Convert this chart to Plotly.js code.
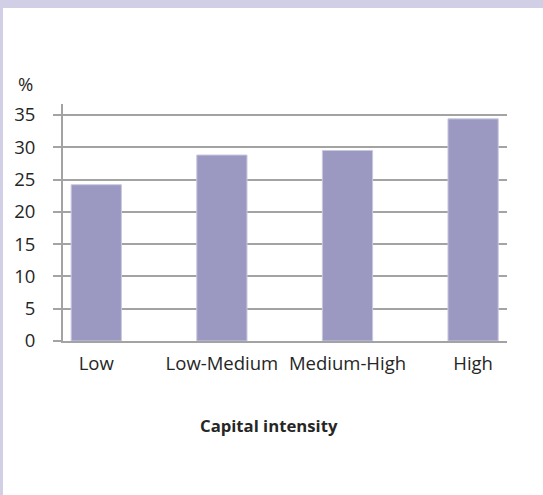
<!DOCTYPE html>
<html>
<head>
<meta charset="utf-8">
<script src="https://cdn.plot.ly/plotly-3.0.1.min.js"></script>
<style>html,body{margin:0;padding:0;background:#fff;}#chart{width:543px;height:495px;}</style>
</head>
<body>
<div id="chart"></div>
<script>
const categories = ["Low", "Low-Medium", "Medium-High", "High"];
const values = [24.2, 28.8, 29.5, 34.4];
const yTicks = [0, 5, 10, 15, 20, 25, 30, 35];
const xTitle = "Capital intensity";
const yUnit = "%";

const W = 543, H = 495, L = 63, R = 36, T = 104, B = 154;
const pw = W - L - R, ph = H - T - B;
const px = p => (p - L) / pw;
const py = p => (H - B - p) / ph;
const band = "#d0cfe6";
const grid = "#a3a3a3";
const font = "'Open Sans', 'Liberation Sans', sans-serif";
const fs = 18.5;

const trace = {
  type: "bar",
  x: categories,
  y: values,
  marker: {color: "#9b99c1", line: {color: "#c9c8e0", width: 1}},
  hoverinfo: "none"
};

const layout = {
  width: W, height: H,
  margin: {l: L, r: R, t: T, b: B, pad: 0},
  paper_bgcolor: "#ffffff",
  plot_bgcolor: "#ffffff",
  showlegend: false,
  bargap: 0.6,
  font: {family: font, size: fs, color: "#262626"},
  xaxis: {
    type: "category",
    range: [-0.265, 3.27],
    showgrid: false,
    showline: true, linecolor: grid, linewidth: 2,
    ticks: "", tickfont: {family: font, size: fs, color: "#262626"},
    ticklabelstandoff: 5,
    fixedrange: true
  },
  yaxis: {
    range: [0, 36.7],
    tickvals: yTicks,
    showgrid: true, gridcolor: grid, gridwidth: 2,
    showline: true, linecolor: grid, linewidth: 2,
    zeroline: false,
    ticks: "outside", ticklen: 8, tickwidth: 2, tickcolor: grid,
    ticklabelstandoff: 14,
    tickfont: {family: font, size: fs, color: "#262626"},
    fixedrange: true
  },
  shapes: [
    {type: "rect", xref: "paper", yref: "paper", layer: "below",
     x0: px(0), x1: px(W), y0: py(8), y1: py(-2), fillcolor: band, line: {width: 0}},
    {type: "rect", xref: "paper", yref: "paper", layer: "below",
     x0: px(0), x1: px(3), y0: py(H + 2), y1: py(8), fillcolor: band, line: {width: 0}}
  ],
  annotations: [
    {text: yUnit, xref: "paper", yref: "paper", x: px(25.5), y: py(84),
     xanchor: "center", yanchor: "middle", showarrow: false,
     font: {family: font, size: fs, color: "#262626"}},
    {text: "<b>" + xTitle + "</b>", xref: "paper", yref: "paper", x: px(269), y: py(425),
     xanchor: "center", yanchor: "middle", showarrow: false,
     font: {family: font, size: 16.7, color: "#262626"}}
  ]
};

Plotly.newPlot("chart", [trace], layout, {displayModeBar: false, staticPlot: true});
</script>
</body>
</html>
